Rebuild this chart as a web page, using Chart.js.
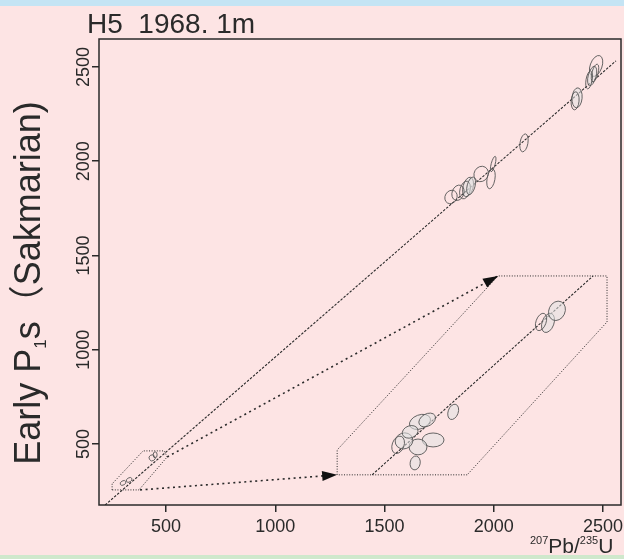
<!DOCTYPE html>
<html lang="en">
<head>
<meta charset="UTF-8" />
<title>H5 1968. 1m</title>
<script src="https://cdn.jsdelivr.net/npm/chart.js"></script>
<style>
  html, body { margin: 0; padding: 0; }
  body { width: 624px; height: 559px; background: #fde4e4; position: relative; overflow: hidden; }
  #topBand { position: absolute; left: 0; top: 0; width: 624px; height: 6px; background: #c4e4f4; }
  #bottomBand { position: absolute; left: 0; top: 555px; width: 624px; height: 4px; background: #cfe8cc; }
  #chartBox { position: absolute; left: 0; top: 0; width: 624px; height: 559px; }
</style>
</head>
<body>
<div id="topBand"></div>
<div id="bottomBand"></div>
<div id="chartBox"><canvas id="myChartCanvas"></canvas></div>
<script>
  // axis ticks
  var xTicks = [500, 1000, 1500, 2000, 2500];
  var yTicks = [500, 1000, 1500, 2000, 2500];

  // concordia line (whole range) and the same line inside the enlarged box
  var concordiaX = [221, 2559];
  var concordiaY = [176, 2532];
  var insetLineX = [1443, 2454];
  var insetLineY = [336, 1391];

  // small box round the young grains, and its enlarged copy
  var smallBoxX = [253, 253, 395, 491, 505, 376, 253];
  var smallBoxY = [256, 288, 463, 463, 431, 256, 256];
  var bigBoxX = [1283, 1283, 2019, 2518, 2518, 1878, 1283];
  var bigBoxY = [336, 468, 1391, 1391, 1147, 336, 336];

  // arrows from the small box to the big box
  var arrowUpX = [505, 2019];
  var arrowUpY = [431, 1391];
  var arrowLowX = [381, 1283];
  var arrowLowY = [256, 336];

  // error ellipses: centre, half axes (Ma), tilt (deg), shaded or not
  var ellX = [2468, 2450, 2436, 2463, 2381, 2372, 2138, 1987, 1997, 1942, 1882, 1868, 1896, 1836, 1804,
              2248, 2289, 2216, 1814, 1662, 1722, 1653, 1589, 1617, 1640, 1695, 1562,
              303, 331, 436, 450];
  var ellY = [2505, 2452, 2431, 2468, 2336, 2320, 2097, 1906, 1985, 1932, 1863, 1847, 1869, 1832, 1810,
              1142, 1206, 1147, 670, 617, 521, 484, 516, 564, 399, 627, 495,
              293, 309, 426, 442];
  var ellErrX = [27, 18, 14, 14, 23, 18, 18, 18, 9, 32, 23, 23, 18, 27, 27,
                 27, 37, 23, 23, 50, 50, 41, 41, 37, 23, 41, 27,
                 14, 14, 14, 9];
  var ellErrY = [58, 53, 48, 48, 53, 48, 48, 53, 42, 42, 53, 48, 48, 42, 37,
                 53, 53, 48, 42, 37, 37, 42, 42, 32, 37, 32, 48,
                 11, 11, 16, 16];
  var ellTilt = [20, 15, 10, 15, 5, 5, 10, 10, 15, 30, 15, 15, 15, 20, 30,
                 20, 25, 20, 20, -20, 0, 0, -20, -20, 10, -30, 20,
                 -30, -30, -30, 0];
  var ellShaded = [0, 1, 0, 0, 1, 0, 0, 0, 0, 0, 1, 0, 1, 0, 0,
                   1, 1, 0, 1, 1, 1, 1, 1, 1, 1, 1, 0,
                   0, 0, 0, 0];

  var FONT = '"Liberation Sans", Arial, "Noto Sans CJK SC", sans-serif';
  var INK = "#2a2a2a";

  function pts(xs, ys) {
    var out = [];
    for (var i = 0; i < xs.length; i++) out.push({ x: xs[i], y: ys[i] });
    return out;
  }

  function lineSet(xs, ys, dash, width, extra) {
    var ds = {
      data: pts(xs, ys),
      showLine: true,
      borderColor: INK,
      borderWidth: width,
      borderDash: dash,
      pointRadius: 0,
      fill: false,
      tension: 0
    };
    if (extra) ds.arrow = true;
    return ds;
  }

  // ellipses, arrow heads, frame and texts
  var drawPlugin = {
    id: "drawPlugin",
    afterDatasetsDraw: function (chart) {
      var ctx = chart.ctx;
      var sx = chart.scales.x;
      var sy = chart.scales.y;

      ctx.save();
      for (var i = 0; i < ellX.length; i++) {
        var cx = sx.getPixelForValue(ellX[i]);
        var cy = sy.getPixelForValue(ellY[i]);
        var rx = Math.abs(sx.getPixelForValue(ellX[i] + ellErrX[i]) - cx);
        var ry = Math.abs(sy.getPixelForValue(ellY[i] + ellErrY[i]) - cy);
        ctx.beginPath();
        ctx.ellipse(cx, cy, rx, ry, ellTilt[i] * Math.PI / 180, 0, Math.PI * 2);
        if (ellShaded[i]) {
          ctx.fillStyle = "rgba(225, 225, 225, 0.55)";
          ctx.fill();
        }
        ctx.strokeStyle = "#555";
        ctx.lineWidth = 0.9;
        ctx.stroke();
      }

      // arrow heads
      chart.data.datasets.forEach(function (ds, k) {
        if (!ds.arrow) return;
        var meta = chart.getDatasetMeta(k);
        var n = meta.data.length;
        var a = meta.data[n - 2], b = meta.data[n - 1];
        var ang = Math.atan2(b.y - a.y, b.x - a.x);
        ctx.save();
        ctx.translate(b.x, b.y);
        ctx.rotate(ang);
        ctx.beginPath();
        ctx.moveTo(0, 0);
        ctx.lineTo(-15, -5);
        ctx.lineTo(-15, 5);
        ctx.closePath();
        ctx.fillStyle = "#111";
        ctx.fill();
        ctx.restore();
      });

      // frame
      var ca = chart.chartArea;
      ctx.strokeStyle = INK;
      ctx.lineWidth = 1.5;
      ctx.strokeRect(ca.left, ca.top, ca.right - ca.left, ca.bottom - ca.top);

      // y tick labels, turned
      ctx.fillStyle = INK;
      ctx.font = "18px " + FONT;
      ctx.textAlign = "center";
      ctx.textBaseline = "middle";
      yTicks.forEach(function (v) {
        var py = sy.getPixelForValue(v);
        ctx.save();
        ctx.translate(84, py);
        ctx.rotate(-Math.PI / 2);
        ctx.fillText(String(v), 0, 0);
        ctx.restore();
      });

      // title
      ctx.textAlign = "left";
      ctx.textBaseline = "alphabetic";
      ctx.font = "28px " + FONT;
      ctx.fillText("H5  1968. 1m", 87, 33);

      // y title with subscript
      var big = "36px " + FONT;
      var small = "17px " + FONT;
      var parts = [["Early P", big, 0], ["1", small, 6], ["s", big, 0], ["\uFF08Sakmarian)", big, 0]];
      var total = 0;
      parts.forEach(function (p) { ctx.font = p[1]; total += ctx.measureText(p[0]).width; });
      ctx.save();
      ctx.translate(40, 283);
      ctx.rotate(-Math.PI / 2);
      var xx = -total / 2;
      parts.forEach(function (p) {
        ctx.font = p[1];
        ctx.fillText(p[0], xx, p[2]);
        xx += ctx.measureText(p[0]).width;
      });
      ctx.restore();

      // x title with superscripts
      var xparts = [["207", "11px " + FONT, -9], ["Pb/", "21px " + FONT, 0], ["235", "11px " + FONT, -9], ["U", "21px " + FONT, 0]];
      var px = 530;
      xparts.forEach(function (p) {
        ctx.font = p[1];
        ctx.fillText(p[0], px, 553 + p[2]);
        px += ctx.measureText(p[0]).width;
      });
      ctx.restore();
    }
  };

  var dados = {
    datasets: [
      lineSet(concordiaX, concordiaY, [2.5, 1.5], 1.1),
      lineSet(insetLineX, insetLineY, [2.5, 1.5], 1.1),
      lineSet(smallBoxX, smallBoxY, [1, 1.6], 1),
      lineSet(bigBoxX, bigBoxY, [1, 1.6], 1),
      lineSet(arrowUpX, arrowUpY, [2, 3.5], 1.6, true),
      lineSet(arrowLowX, arrowLowY, [2, 3.5], 1.6, true)
    ]
  };

  var options = {
    responsive: true,
    maintainAspectRatio: false,
    animation: false,
    devicePixelRatio: 1,
    layout: { padding: { left: 0, right: 3, top: 39, bottom: 0 } },
    plugins: { legend: { display: false }, tooltip: { enabled: false } },
    scales: {
      x: {
        type: "linear",
        min: 193,
        max: 2582,
        afterBuildTicks: function (s) { s.ticks = xTicks.map(function (v) { return { value: v }; }); },
        afterFit: function (s) { s.height = 54; s.paddingLeft = 0; s.paddingRight = 0; },
        border: { display: false },
        grid: { display: true, drawOnChartArea: false, drawTicks: true, tickLength: 7, color: INK, lineWidth: 1.5 },
        ticks: {
          color: INK,
          font: { family: FONT, size: 18 },
          padding: 4,
          maxRotation: 0,
          autoSkip: false,
          callback: function (v) { return String(v); }
        }
      },
      y: {
        type: "linear",
        min: 176,
        max: 2648,
        afterBuildTicks: function (s) { s.ticks = yTicks.map(function (v) { return { value: v }; }); },
        afterFit: function (s) { s.width = 99; },
        border: { display: false },
        grid: { display: true, drawOnChartArea: false, drawTicks: true, tickLength: 7, color: INK, lineWidth: 1.5 },
        ticks: { display: false }
      }
    }
  };

  var config = {
    type: "scatter",
    data: dados,
    options: options,
    plugins: [drawPlugin]
  };

  var myChart = new Chart(document.getElementById("myChartCanvas"), config);
</script>
</body>
</html>
